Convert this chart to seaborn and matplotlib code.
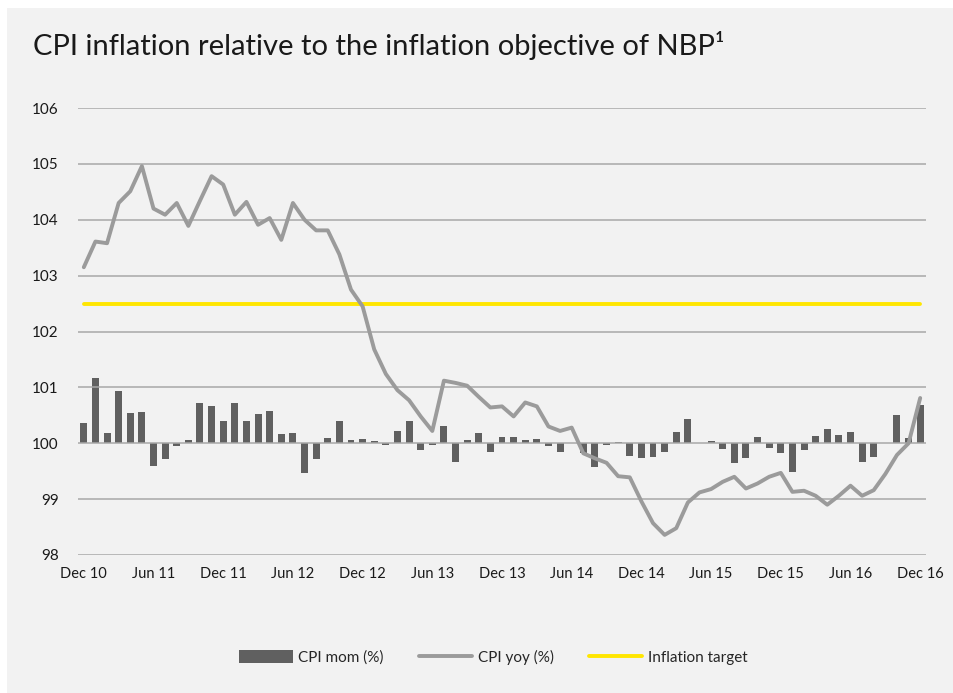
import numpy as np
import pandas as pd
import matplotlib
matplotlib.use("Agg")
import matplotlib.pyplot as plt
import seaborn as sns
from matplotlib.patches import Rectangle, Patch
from matplotlib.lines import Line2D

months = [d.strftime("%b %y") for d in pd.date_range("2010-12-01", "2016-12-01", freq="MS")]

cpi_mom = [0.36, 1.17, 0.19, 0.94, 0.54, 0.56, -0.40, -0.28, -0.05, 0.06,
           0.72, 0.66, 0.39, 0.72, 0.40, 0.52, 0.58, 0.16, 0.19, -0.53,
           -0.28, 0.10, 0.39, 0.05, 0.07, 0.04, -0.03, 0.22, 0.39, -0.12,
           -0.03, 0.31, -0.33, 0.05, 0.18, -0.16, 0.11, 0.11, 0.06, 0.08,
           -0.05, -0.15, 0.00, -0.18, -0.42, -0.04, 0.03, -0.22, -0.27, -0.24,
           -0.15, 0.20, 0.44, 0.00, 0.04, -0.10, -0.36, -0.26, 0.12, -0.09,
           -0.17, -0.52, -0.12, 0.13, 0.26, 0.14, 0.21, -0.33, -0.25, 0.00,
           0.50, 0.09, 0.69]

cpi_yoy = [103.15, 103.61, 103.58, 104.30, 104.51, 104.96, 104.20, 104.09, 104.30, 103.89,
           104.34, 104.78, 104.63, 104.09, 104.32, 103.91, 104.03, 103.64, 104.30, 104.00,
           103.81, 103.81, 103.38, 102.75, 102.45, 101.68, 101.24, 100.95, 100.77, 100.48,
           100.22, 101.12, 101.08, 101.03, 100.83, 100.64, 100.66, 100.48, 100.73, 100.66,
           100.30, 100.22, 100.28, 99.82, 99.73, 99.65, 99.41, 99.39, 98.96, 98.57,
           98.36, 98.48, 98.94, 99.12, 99.18, 99.31, 99.40, 99.19, 99.28, 99.40,
           99.47, 99.13, 99.15, 99.06, 98.90, 99.06, 99.24, 99.06, 99.16, 99.45,
           99.79, 100.00, 100.81]

inflation_target = [102.5] * len(months)

tick_labels = ["Dec 10", "Jun 11", "Dec 11", "Jun 12", "Dec 12", "Jun 13", "Dec 13",
               "Jun 14", "Dec 14", "Jun 15", "Dec 15", "Jun 16", "Dec 16"]
y_ticks = [98, 99, 100, 101, 102, 103, 104, 105, 106]

BG = "#F2F2F2"
BAR = "#606060"
LINE = "#9B9B9B"
YELLOW = "#FFE600"
GRID = "#A8A8A8"

sns.set_theme(style="white")
plt.rcParams["font.family"] = ["Lato", "DejaVu Sans"]

fig = plt.figure(figsize=(9.54, 6.93), dpi=100)
fig.patch.set_facecolor("white")
W, H = 954, 693
fig.add_artist(Rectangle((7 / W, 0), 1, 1 - 8 / H, transform=fig.transFigure,
                         facecolor=BG, edgecolor="none", zorder=0))

ax = fig.add_axes([78 / W, 1 - 555 / H, (926 - 78) / W, (555 - 108) / H])
ax.set_facecolor(BG)
ax.patch.set_alpha(0)

df = pd.DataFrame({"month": months, "mom": cpi_mom, "yoy": cpi_yoy,
                   "target": inflation_target, "idx": np.arange(len(months))})

for yv in y_ticks:
    ax.axhline(yv, color=GRID, lw=1.1, zorder=2.5)

sns.barplot(data=df, x="month", y="mom", bottom=100, color=BAR, width=0.6,
            saturation=1, ax=ax, zorder=2, order=months, linewidth=0)
sns.lineplot(data=df, x="idx", y="target", color=YELLOW, lw=2.8, ax=ax, zorder=3)
sns.lineplot(data=df, x="idx", y="yoy", color=LINE, lw=2.8, ax=ax, zorder=4)

ax.set_ylim(98, 106)
ax.set_xlim(-0.5, len(months) - 0.5)
ax.set_yticks(y_ticks)
ax.set_yticklabels([str(v) for v in y_ticks], fontsize=11, color="#1a1a1a")
ax.set_xticks(np.arange(0, len(months), 6))
ax.set_xticklabels(tick_labels, fontsize=10.5, color="#1a1a1a")
ax.tick_params(axis="y", length=0, pad=14)
ax.tick_params(axis="x", length=0, pad=9)
ax.set_xlabel("")
ax.set_ylabel("")
for s in ax.spines.values():
    s.set_visible(False)
ax.grid(False)

fig.text(33 / W, 1 - 45 / H, "CPI inflation relative to the inflation objective of NBP\u00b9",
         fontsize=21, va="center", ha="left", color="#1a1a1a")

handles = [Patch(facecolor=BAR, edgecolor="none"),
           Line2D([], [], color=LINE, lw=2.8),
           Line2D([], [], color=YELLOW, lw=2.8)]
fig.legend(handles, ["CPI mom (%)", "CPI yoy (%)", "Inflation target"],
           loc="center", bbox_to_anchor=(0.517, 1 - 657 / H), ncol=3, frameon=False,
           fontsize=11, handlelength=3.5, handleheight=0.9, handletextpad=0.35,
           columnspacing=2.3)

fig.savefig("out.png", dpi=100, facecolor=fig.get_facecolor())
